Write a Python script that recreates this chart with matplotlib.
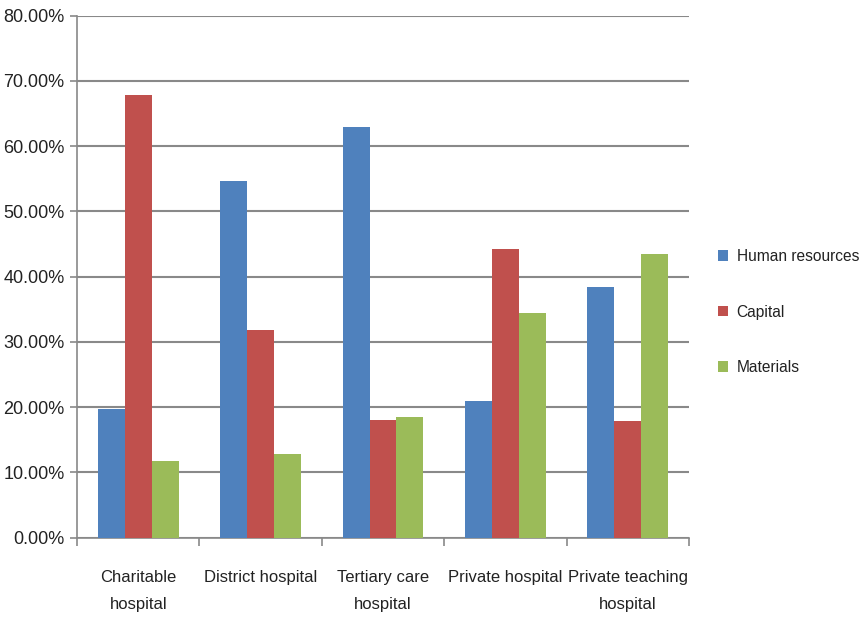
import matplotlib.pyplot as plt
import numpy as np

# values (percent)
categories = ['Charitable\nhospital', 'District hospital', 'Tertiary care\nhospital',
              'Private hospital', 'Private teaching\nhospital']
human_resources = [19.7, 54.7, 63.0, 21.0, 38.4]
capital = [67.9, 31.9, 18.1, 44.2, 17.9]
materials = [11.8, 12.9, 18.5, 34.5, 43.4]

series_names = ['Human resources', 'Capital', 'Materials']
colors = ['#4F81BD', '#C0504D', '#9BBB59']

plt.rcParams['font.family'] = ['Liberation Sans', 'DejaVu Sans']
grey = '#898989'

fig = plt.figure(figsize=(8.6, 6.19), dpi=100)
ax = fig.add_axes([77/860, 1 - 537.7/619, (689 - 77)/860, (537.7 - 15.6)/619])

x = np.arange(len(categories))
w = 0.22
for k, vals in enumerate([human_resources, capital, materials]):
    ax.bar(x + (k - 1)*w, vals, w, color=colors[k], label=series_names[k], zorder=3)

ax.set_xlim(-0.5, len(categories) - 0.5)
ax.set_ylim(0, 80)
ax.set_yticks(np.arange(0, 81, 10))
ax.set_yticklabels(['%.2f%%' % v for v in np.arange(0, 81, 10)], fontsize=13, color='#222222')
ax.yaxis.grid(True, color=grey, linewidth=1.5, zorder=0)

# category boundaries as major ticks, labels on minor ticks
ax.set_xticks(np.arange(-0.5, len(categories)))
ax.set_xticklabels([])
ax.set_xticks(x, minor=True)
ax.set_xticklabels(categories, minor=True, fontsize=12, linespacing=2.0, color='#222222')
ax.tick_params(axis='x', which='major', length=6, color=grey, width=1.2)
ax.tick_params(axis='x', which='minor', length=0, pad=23)
ax.tick_params(axis='y', length=5, color=grey, width=1.2, pad=4)

for s in ['top', 'right']:
    ax.spines[s].set_visible(False)
for s in ['left', 'bottom']:
    ax.spines[s].set_color(grey)
    ax.spines[s].set_linewidth(1.2)

leg = ax.legend(loc='center left', bbox_to_anchor=(718/860, 1 - 312/619),
                bbox_transform=fig.transFigure, frameon=False, fontsize=11.2,
                handlelength=0.65, handleheight=0.65, handletextpad=0.55,
                labelspacing=2.6, borderaxespad=0, borderpad=0)
for t in leg.get_texts():
    t.set_color('#222222')

fig.savefig('out.png', dpi=100)
